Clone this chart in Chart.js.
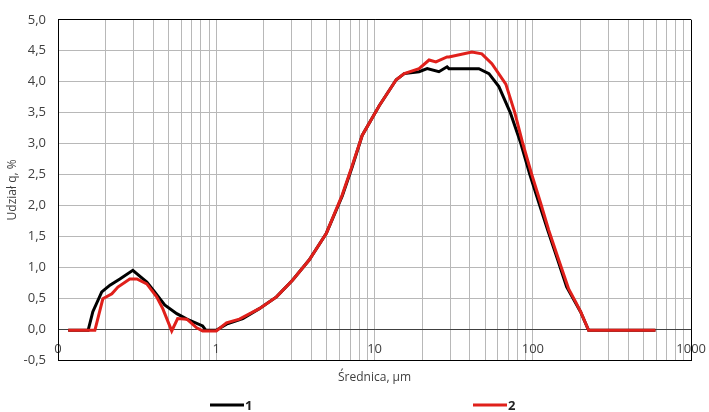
<!DOCTYPE html>
<html>
<head>
<meta charset="utf-8">
<script src="https://cdn.jsdelivr.net/npm/chart.js@4.4.1/dist/chart.umd.min.js"></script>
<style>
  html, body { margin: 0; padding: 0; background: #fff; }
  #wrap { width: 709px; height: 412px; }
</style>
</head>
<body>
<div id="wrap"><canvas id="psd"></canvas></div>
<script>
// Średnica [µm] / udział [%]
const sizes1 = [0.116, 0.155, 0.166, 0.189, 0.213, 0.246, 0.297, 0.364, 0.408, 0.472, 0.563, 0.652, 0.82, 0.86, 1.0,
  1.16, 1.47, 1.87, 2.4, 3.03, 3.87, 4.96, 6.25, 7.22, 8.35, 10.7, 13.7, 15.4, 19.1, 21.5, 25.5, 28.7, 29.5,
  41.2, 45.6, 52.8, 61.0, 72.0, 84.0, 95.6, 108.9, 124.1, 143.5, 163.5, 183.7, 200, 225, 595];
const share1 = [-0.02, -0.02, 0.28, 0.60, 0.71, 0.81, 0.95, 0.76, 0.60, 0.39, 0.25, 0.16, 0.05, -0.02, -0.02,
  0.08, 0.17, 0.33, 0.52, 0.79, 1.12, 1.55, 2.15, 2.62, 3.13, 3.61, 4.03, 4.13, 4.16, 4.21, 4.16, 4.24, 4.21,
  4.21, 4.21, 4.13, 3.92, 3.50, 3.00, 2.50, 2.05, 1.60, 1.12, 0.68, 0.45, 0.28, -0.02, -0.02];

const sizes2 = [0.116, 0.171, 0.192, 0.219, 0.239, 0.284, 0.315, 0.364, 0.42, 0.459, 0.523, 0.57, 0.652, 0.752, 0.82, 1.0,
  1.16, 1.4, 1.87, 2.4, 3.03, 3.87, 4.96, 6.25, 7.22, 8.35, 10.7, 13.7, 15.4, 19.1, 22.1, 24.4, 28.7, 29.5,
  41.2, 47.6, 55.1, 67.5, 76.9, 86.4, 98.4, 112.2, 126, 145.6, 168.4, 186.3, 200.4, 225, 595];
const share2 = [-0.02, -0.02, 0.49, 0.57, 0.68, 0.81, 0.81, 0.73, 0.52, 0.33, -0.03, 0.17, 0.16, 0.02, -0.03, -0.03,
  0.10, 0.16, 0.33, 0.52, 0.79, 1.12, 1.55, 2.17, 2.64, 3.13, 3.61, 4.03, 4.13, 4.21, 4.35, 4.32, 4.40, 4.40,
  4.48, 4.45, 4.29, 3.96, 3.50, 3.00, 2.50, 2.03, 1.60, 1.12, 0.65, 0.44, 0.28, -0.02, -0.02];

const seriesNames = ['1', '2'];
const xDecades = [0.1, 1, 10, 100, 1000];
const xTickLabels = ['0', '1', '10', '100', '1000'];

// vertical grid: 1..9 inside every decade
const xGrid = [];
for (let d = 0; d < xDecades.length - 1; d++) {
  for (let k = 1; k <= 9; k++) xGrid.push(xDecades[d] * k);
}
xGrid.push(xDecades[xDecades.length - 1]);

const toPoints = (xs, ys) => xs.map((x, i) => ({ x: x, y: ys[i] }));
const fmt = v => v.toFixed(1).replace('.', ',');

// hand drawn legend, spread out like the Excel one
const spreadLegend = {
  id: 'spreadLegend',
  afterDraw(chart, args, opts) {
    const ctx = chart.ctx;
    ctx.save();
    chart.data.datasets.forEach((ds, i) => {
      const x0 = opts.x[i];
      ctx.strokeStyle = ds.borderColor;
      ctx.lineWidth = 3;
      ctx.beginPath();
      ctx.moveTo(x0, opts.y);
      ctx.lineTo(x0 + 34, opts.y);
      ctx.stroke();
      ctx.fillStyle = '#222';
      ctx.font = 'bold 13px "Open Sans", sans-serif';
      ctx.textBaseline = 'middle';
      ctx.fillText(ds.label, x0 + 35, opts.y + 1);
    });
    ctx.restore();
  }
};

Chart.defaults.font.family = '"Open Sans", "Liberation Sans", sans-serif';
Chart.defaults.font.size = 12;
Chart.defaults.color = '#404040';

new Chart(document.getElementById('psd'), {
  type: 'line',
  data: {
    datasets: [
      {
        label: seriesNames[0],
        data: toPoints(sizes1, share1),
        borderColor: '#000000',
        borderWidth: 3,
        pointRadius: 0,
        tension: 0,
        order: 1
      },
      {
        label: seriesNames[1],
        data: toPoints(sizes2, share2),
        borderColor: '#e0201b',
        borderWidth: 3,
        pointRadius: 0,
        tension: 0,
        order: 0
      }
    ]
  },
  options: {
    responsive: true,
    maintainAspectRatio: false,
    animation: false,
    layout: { padding: { top: 14, right: 16, left: 0, bottom: 0 } },
    plugins: {
      legend: { display: false },
      tooltip: { enabled: false },
      spreadLegend: { x: [210, 473], y: 405 }
    },
    scales: {
      x: {
        type: 'logarithmic',
        min: 0.1,
        max: 1000,
        afterBuildTicks: s => { s.ticks = xGrid.map(v => ({ value: v })); },
        afterFit: s => { s.height = 52; },
        ticks: {
          autoSkip: false,
          maxRotation: 0,
          mirror: true,   // keeps labels unclipped so they can sit inside the plot
          padding: 3,
          font: { size: 13 },
          color: '#404040',
          callback: value => {
            const i = xDecades.findIndex(d => Math.abs(d - value) < d * 1e-6);
            return i >= 0 ? xTickLabels[i] : '';
          }
        },
        grid: {
          drawTicks: false,
          color: c => (c.tick && Math.abs(c.tick.value - 1000) < 1e-6) ? '#000' : '#b8b8b8'
        },
        border: { color: '#000', width: 1 },
        title: {
          display: true,
          text: 'Średnica, µm',
          color: '#404040',
          padding: { top: 4, bottom: 27 }
        }
      },
      y: {
        min: -0.5,
        max: 5,
        afterFit: s => { s.width = 58; },
        ticks: {
          stepSize: 0.5,
          padding: 12,
          font: { size: 13 },
          color: '#404040',
          callback: v => fmt(v)
        },
        grid: {
          drawTicks: false,
          color: c => {
            if (!c.tick) return '#b8b8b8';
            if (c.tick.value === 5) return '#000';
            if (c.tick.value === 0) return '#404040';
            return '#b8b8b8';
          }
        },
        border: { color: '#000', width: 1 },
        title: {
          display: true,
          text: 'Udział q, %',
          color: '#404040',
          padding: { top: 5, bottom: 0 }
        }
      }
    }
  },
  plugins: [spreadLegend]
});
</script>
</body>
</html>
